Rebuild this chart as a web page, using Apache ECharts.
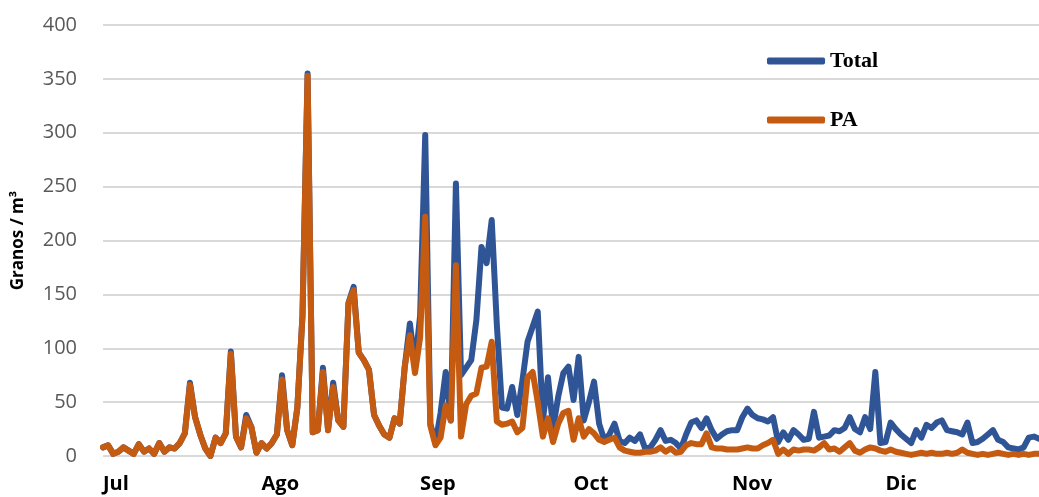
<!DOCTYPE html>
<html>
<head>
<meta charset="utf-8">
<script src="https://cdn.jsdelivr.net/npm/echarts@6/dist/echarts.min.js"></script>
<style>
  html, body { margin: 0; padding: 0; background: #ffffff; }
  #chart { width: 1039px; height: 497px; }
</style>
</head>
<body>
<div id="chart"></div>
<script>
// Daily pollen counts (granos / m³), 1 July – 31 December
const monthNames = ['Jul', 'Ago', 'Sep', 'Oct', 'Nov', 'Dic'];
const monthDays = [31, 31, 30, 31, 30, 31];

const total = [
  // Jul
  8, 10, 2, 4, 8, 5, 2, 11, 4, 7, 2, 12, 4, 8, 7, 12, 21, 68, 36, 20, 7, 0, 17, 12, 21, 97, 18, 8, 38, 27, 3,
  // Ago
  12, 7, 12, 20, 75, 24, 10, 45, 130, 355, 22, 24, 82, 24, 68, 33, 27, 142, 157, 96, 89, 80, 38, 28, 20, 17, 35, 30, 83, 123, 85,
  // Sep
  130, 298, 30, 12, 40, 78, 33, 253, 75, 82, 89, 126, 194, 179, 219, 122, 45, 44, 64, 38, 70, 106, 120, 134, 33, 73, 26, 55, 77, 83,
  // Oct
  52, 92, 33, 50, 69, 30, 15, 20, 30, 14, 12, 17, 14, 20, 7, 8, 15, 24, 14, 15, 12, 7, 20, 31, 33, 26, 35, 24, 16, 20, 23,
  // Nov
  24, 24, 36, 44, 38, 35, 34, 32, 36, 13, 22, 15, 24, 20, 15, 16, 41, 17, 18, 19, 24, 23, 26, 36, 25, 22, 36, 25, 78, 12,
  // Dic
  13, 31, 25, 20, 16, 12, 24, 17, 29, 26, 31, 33, 24, 23, 22, 20, 31, 12, 13, 16, 20, 24, 15, 13, 8, 7, 6, 8, 17, 18, 16
];

const pa = [
  // Jul
  8, 10, 2, 4, 8, 5, 2, 11, 4, 7, 2, 12, 4, 8, 7, 12, 21, 66, 36, 20, 7, 0, 17, 12, 21, 95, 18, 8, 35, 27, 3,
  // Ago
  12, 7, 12, 20, 71, 24, 10, 45, 130, 353, 22, 24, 78, 24, 64, 33, 27, 142, 154, 96, 89, 80, 38, 28, 20, 17, 35, 30, 83, 112, 77,
  // Sep
  110, 222, 28, 10, 17, 47, 33, 177, 18, 48, 56, 58, 82, 83, 106, 32, 29, 30, 32, 22, 26, 73, 78, 50, 18, 35, 13, 30, 40, 42,
  // Oct
  15, 35, 18, 25, 21, 15, 13, 15, 17, 8, 5, 4, 3, 3, 4, 4, 5, 8, 4, 7, 3, 4, 10, 12, 11, 11, 21, 8, 7, 7, 6,
  // Nov
  6, 6, 7, 8, 7, 7, 10, 12, 15, 2, 6, 2, 6, 5, 6, 6, 5, 8, 12, 6, 7, 4, 8, 12, 5, 3, 6, 8, 7, 5,
  // Dic
  4, 6, 4, 3, 2, 1, 2, 3, 2, 3, 2, 2, 3, 2, 3, 6, 3, 2, 1, 2, 1, 2, 3, 2, 1, 2, 1, 2, 1, 2, 2
];

// One category per day; the first day of each month carries its month name
const days = [];
const monthStart = {};
monthNames.forEach(function (m, mi) {
  for (let d = 1; d <= monthDays[mi]; d++) {
    const key = m + '-' + d;
    if (d === 1) monthStart[key] = m;
    days.push(key);
  }
});

const chart = echarts.init(document.getElementById('chart'), null, { renderer: 'canvas' });

chart.setOption({
  animation: false,
  backgroundColor: '#ffffff',
  grid: { left: 103, right: -8, top: 25, bottom: 41, containLabel: false },
  legend: {
    orient: 'vertical',
    left: 762,
    top: 45,
    itemWidth: 58,
    itemHeight: 7,
    itemGap: 37,
    icon: 'roundRect',
    textStyle: {
      fontFamily: '"Liberation Serif", "Times New Roman", serif',
      fontWeight: 'bold',
      fontSize: 22,
      color: '#000000'
    },
    data: ['Total', 'PA']
  },
  xAxis: {
    type: 'category',
    data: days,
    boundaryGap: false,
    axisLine: { show: false },
    axisTick: { show: false },
    splitLine: { show: false },
    axisLabel: {
      interval: function (index, value) { return monthStart[value] !== undefined; },
      formatter: function (value) { return monthStart[value] || ''; },
      align: 'left',
      margin: 18,
      fontFamily: '"Open Sans", sans-serif',
      fontWeight: 'bold',
      fontSize: 20,
      color: '#000000'
    }
  },
  yAxis: {
    type: 'value',
    min: 0,
    max: 400,
    interval: 50,
    name: 'Granos / m³',
    nameLocation: 'middle',
    nameRotate: 90,
    nameGap: 76,
    nameTextStyle: {
      fontFamily: '"Open Sans", sans-serif',
      fontWeight: 'bold',
      fontSize: 17,
      color: '#000000'
    },
    axisLine: { show: false },
    axisTick: { show: false },
    axisLabel: {
      margin: 26,
      fontFamily: '"Open Sans", sans-serif',
      fontSize: 20,
      color: '#595959'
    },
    splitLine: { lineStyle: { color: '#d9d9d9', width: 2 } }
  },
  series: [
    {
      name: 'Total',
      type: 'line',
      data: total,
      symbol: 'none',
      color: '#2f5597',
      lineStyle: { width: 6, color: '#2f5597', cap: 'round', join: 'round' },
      z: 2
    },
    {
      name: 'PA',
      type: 'line',
      data: pa,
      symbol: 'none',
      color: '#c55a11',
      lineStyle: { width: 6, color: '#c55a11', cap: 'round', join: 'round' },
      z: 3
    }
  ]
});
</script>
</body>
</html>
